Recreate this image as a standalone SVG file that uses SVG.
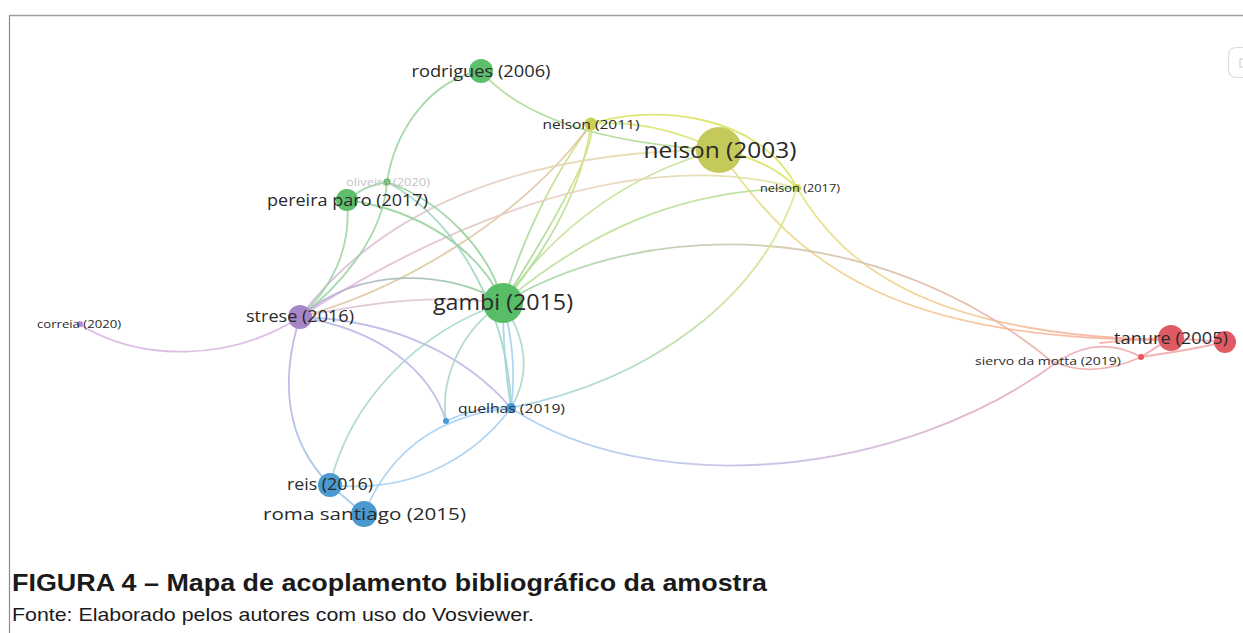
<svg xmlns="http://www.w3.org/2000/svg" width="1243" height="633" viewBox="0 0 1243 633">
<style>
.e{fill:none;stroke-linecap:round;stroke-width:1.8;stroke-opacity:0.85}
.lbl{font-family:"Open Sans","DejaVu Sans",sans-serif;fill:#2a2a2a;text-anchor:middle}
.cap{font-family:"Liberation Sans",Arial,sans-serif;fill:#1a1a1a}
</style>
<defs>
<linearGradient id="gYR1" gradientUnits="userSpaceOnUse" x1="719" y1="150" x2="1171" y2="338"><stop offset="0" stop-color="#dfe37a"/><stop offset="0.5" stop-color="#f3c48e"/><stop offset="1" stop-color="#f6a5a0"/></linearGradient>
<linearGradient id="gYR2" gradientUnits="userSpaceOnUse" x1="797" y1="188" x2="1171" y2="338"><stop offset="0" stop-color="#e0e47a"/><stop offset="0.5" stop-color="#f3c48e"/><stop offset="1" stop-color="#f6a5a0"/></linearGradient>
<linearGradient id="gGR" gradientUnits="userSpaceOnUse" x1="503" y1="303" x2="1141" y2="357"><stop offset="0" stop-color="#9ed6a4"/><stop offset="0.45" stop-color="#cfc4a8"/><stop offset="1" stop-color="#f4a4a4"/></linearGradient>
<linearGradient id="gBR" gradientUnits="userSpaceOnUse" x1="511" y1="408" x2="1171" y2="338"><stop offset="0" stop-color="#a8cdf0"/><stop offset="0.45" stop-color="#c9b6df"/><stop offset="1" stop-color="#f5a2a2"/></linearGradient>
<linearGradient id="gBY" gradientUnits="userSpaceOnUse" x1="511" y1="408" x2="797" y2="188"><stop offset="0" stop-color="#9fd0ea"/><stop offset="0.5" stop-color="#b9dca0"/><stop offset="1" stop-color="#e0e67c"/></linearGradient>
<linearGradient id="gPY" gradientUnits="userSpaceOnUse" x1="300" y1="317" x2="719" y2="150"><stop offset="0" stop-color="#d2afe0"/><stop offset="0.5" stop-color="#e6cdbf"/><stop offset="1" stop-color="#e2e39a"/></linearGradient>
<linearGradient id="gPY2" gradientUnits="userSpaceOnUse" x1="300" y1="317" x2="797" y2="188"><stop offset="0" stop-color="#d2afe0"/><stop offset="0.5" stop-color="#e6cdbf"/><stop offset="1" stop-color="#e2e39a"/></linearGradient>
<linearGradient id="gPG" gradientUnits="userSpaceOnUse" x1="300" y1="317" x2="503" y2="303"><stop offset="0" stop-color="#c4a6dc"/><stop offset="1" stop-color="#86cf92"/></linearGradient>
<linearGradient id="gPB" gradientUnits="userSpaceOnUse" x1="300" y1="317" x2="330" y2="485"><stop offset="0" stop-color="#c3a3dc"/><stop offset="1" stop-color="#9cc6ec"/></linearGradient>
<linearGradient id="gGY" gradientUnits="userSpaceOnUse" x1="503" y1="303" x2="591" y2="124"><stop offset="0" stop-color="#92d39c"/><stop offset="1" stop-color="#d8e27a"/></linearGradient>
</defs>
<g id="frame">
<line x1="9.5" y1="15" x2="9.5" y2="633" stroke="#8a8a8a" stroke-width="1.2"/>
<line x1="9" y1="15.5" x2="1243" y2="15.5" stroke="#a0a0a0" stroke-width="1.6"/>
<path d="M1243,47.5 L1237,47.5 Q1228.5,47.5 1228.5,56 L1228.5,69 Q1228.5,77.5 1237,77.5 L1243,77.5" fill="none" stroke="#dcdcdc" stroke-width="1.2"/>
<rect x="1240" y="59" width="4" height="8" fill="none" stroke="#c8c8c8" stroke-width="1"/>
</g>
<g id="connectors">
<path class="e" d="M481,71 Q540,140 719,150" stroke="#a7d88a" stroke-width="3"/>
<path class="e" d="M591,124 C650,104 760,112 797,188" stroke="#d8e25a" stroke-width="4"/>
<path class="e" d="M591,124 Q650,118 719,150" stroke="#dbe36a" stroke-width="2.2"/>
<path class="e" d="M719,150 Q770,160 797,188" stroke="#d8e25a" stroke-width="4"/>
<path class="e" d="M719,150 C800,270 900,340 1171,340" stroke="url(#gYR1)"/>
<path class="e" d="M797,188 C840,260 920,336 1171,340" stroke="url(#gYR2)"/>
<path class="e" d="M503,303 Q535,200 591,124" stroke="url(#gGY)"/>
<path class="e" d="M503,303 Q580,210 591,124" stroke="url(#gGY)"/>
<path class="e" d="M503,303 Q600,150 591,124" stroke="url(#gGY)"/>
<path class="e" d="M503,303 C560,220 640,170 719,150" stroke="#bde08c"/>
<path class="e" d="M503,303 C590,230 680,190 797,188" stroke="#b9de92"/>
<path class="e" d="M300,317 C400,290 520,220 591,124" stroke="#dcc6a0"/>
<path class="e" d="M300,317 C380,210 520,150 719,150" stroke="url(#gPY)" stroke-width="2.2"/>
<path class="e" d="M300,317 C420,240 620,140 797,188" stroke="url(#gPY2)" stroke-width="2.2"/>
<path class="e" d="M503,303 C650,215 880,220 1050,360 Q1090,380 1141,357" stroke="url(#gGR)"/>
<path class="e" d="M511,408 C650,500 900,480 1060,360 Q1100,335 1141,357" stroke="url(#gBR)"/>
<path class="e" d="M511,408 C650,380 760,300 797,188" stroke="url(#gBY)"/>
<path class="e" d="M1141,357 Q1160,345 1171,338" stroke="#f29a9a" stroke-width="2.2"/>
<path class="e" d="M1141,357 Q1190,350 1225,342" stroke="#f4a3a3"/>
<path class="e" d="M1171,338 L1225,342" stroke="#f4a3a3"/>
<path class="e" d="M1100,343 Q1150,338 1171,338" stroke="#f6b0a0"/>
<path class="e" d="M481,71 C430,80 395,130 387,182" stroke="#98d4a0"/>
<path class="e" d="M387,182 C383,240 335,290 300,317" stroke="#98d4a0"/>
<path class="e" d="M347,200 C352,250 330,290 300,317" stroke="#98d4a0"/>
<path class="e" d="M347,200 Q365,185 387,182" stroke="#98d4a0"/>
<path class="e" d="M347,200 C420,210 480,250 503,303" stroke="#8fd098"/>
<path class="e" d="M387,182 C440,200 490,250 503,303" stroke="#8fd098"/>
<path class="e" d="M387,182 C460,220 510,320 511,408" stroke="#9cd3c0"/>
<path class="e" d="M300,317 C360,265 450,270 503,303" stroke="url(#gPG)" stroke-width="3.2"/>
<path class="e" d="M300,317 C380,300 440,295 503,303" stroke="#dcbfd0"/>
<path class="e" d="M79,324 C140,362 230,362 300,317" stroke="#d7b3e0"/>
<path class="e" d="M300,317 C280,380 285,440 330,485" stroke="url(#gPB)" stroke-width="2.8"/>
<path class="e" d="M300,317 C400,320 470,360 511,408" stroke="#b7b6e6"/>
<path class="e" d="M300,317 C380,330 430,370 446,421" stroke="#b7b6e6"/>
<path class="e" d="M503,303 Q503,360 511,408" stroke="#9fd0e6"/>
<path class="e" d="M503,303 Q518,360 511,408" stroke="#9fcff0"/>
<path class="e" d="M503,303 Q540,360 511,408" stroke="#a4d6c4"/>
<path class="e" d="M503,303 C460,330 440,380 446,421" stroke="#a4d6c4"/>
<path class="e" d="M446,421 Q480,405 511,408" stroke="#9ccbf0"/>
<path class="e" d="M503,303 C420,330 350,400 330,485" stroke="#a2d4cc"/>
<path class="e" d="M330,485 C420,495 480,450 511,408" stroke="#a6cef0"/>
<path class="e" d="M364,514 C390,450 440,415 511,408" stroke="#a6cef0"/>
<path class="e" d="M330,485 L364,514" stroke="#95c3ea" stroke-width="2.4"/>
</g>
<g id="node-rodrigues"><circle cx="481" cy="71" r="12" fill="#5cbf6c"/><text class="lbl" x="481" y="76.5" font-size="15.5" textLength="139" lengthAdjust="spacingAndGlyphs">rodrigues (2006)</text></g>
<g id="node-nelson2011"><circle cx="591" cy="124" r="6.5" fill="#c8d154"/><text class="lbl" x="591" y="128.5" font-size="12.5" textLength="97" lengthAdjust="spacingAndGlyphs">nelson (2011)</text></g>
<g id="node-nelson2003"><circle cx="719" cy="150" r="23" fill="#c4c95a"/><text class="lbl" x="720" y="158" font-size="21" textLength="153" lengthAdjust="spacingAndGlyphs">nelson (2003)</text></g>
<g id="node-nelson2017"><circle cx="797" cy="188" r="4" fill="#cdd552"/><text class="lbl" x="800" y="192" font-size="11" textLength="80" lengthAdjust="spacingAndGlyphs">nelson (2017)</text></g>
<g id="node-oliveira"><circle cx="387" cy="182" r="3.5" fill="#4cb85c"/><text class="lbl" x="388" y="185.5" font-size="11" textLength="84" lengthAdjust="spacingAndGlyphs" style="fill:#c4c4c4">oliveira (2020)</text></g>
<g id="node-pereiraparo"><circle cx="347" cy="200" r="11" fill="#5cbd6b"/><text class="lbl" x="347.5" y="205.5" font-size="15.5" textLength="161" lengthAdjust="spacingAndGlyphs">pereira paro (2017)</text></g>
<g id="node-gambi"><circle cx="503" cy="303" r="20" fill="#57bd66"/><text class="lbl" x="503" y="310" font-size="21" textLength="140" lengthAdjust="spacingAndGlyphs">gambi (2015)</text></g>
<g id="node-strese"><circle cx="300" cy="317" r="12" fill="#a686c6"/><text class="lbl" x="300" y="322" font-size="15.5" textLength="108" lengthAdjust="spacingAndGlyphs">strese (2016)</text></g>
<g id="node-correia"><circle cx="80" cy="324" r="3" fill="#b28fd0"/><text class="lbl" x="79" y="327.5" font-size="11" textLength="84" lengthAdjust="spacingAndGlyphs">correia (2020)</text></g>
<g id="node-quelhas"><circle cx="511" cy="408" r="5" fill="#4a9bd6"/><text class="lbl" x="511.5" y="413" font-size="13" textLength="107" lengthAdjust="spacingAndGlyphs">quelhas (2019)</text></g>
<g id="node-small-blue"><circle cx="446" cy="421" r="3" fill="#4a9bd6"/></g>
<g id="node-reis"><circle cx="330" cy="485" r="12" fill="#4b9ad1"/><text class="lbl" x="330" y="490" font-size="15.5" textLength="86" lengthAdjust="spacingAndGlyphs">reis (2016)</text></g>
<g id="node-romasantiago"><circle cx="364" cy="514" r="13" fill="#4a98d0"/><text class="lbl" x="364.5" y="519.5" font-size="17" textLength="203" lengthAdjust="spacingAndGlyphs">roma santiago (2015)</text></g>
<g id="node-siervo"><circle cx="1141" cy="357" r="3" fill="#e8565e"/><text class="lbl" x="1048" y="364.5" font-size="11" textLength="146" lengthAdjust="spacingAndGlyphs">siervo da motta (2019)</text></g>
<g id="node-red2"><circle cx="1225" cy="342" r="11" fill="#e25b64"/></g>
<g id="node-tanure"><circle cx="1171" cy="338" r="13" fill="#e05a63"/><text class="lbl" x="1171" y="344" font-size="16.5" textLength="114" lengthAdjust="spacingAndGlyphs">tanure (2005)</text></g>
<g id="caption">
<text class="cap" x="12" y="591" font-size="24" font-weight="bold" textLength="755" lengthAdjust="spacingAndGlyphs">FIGURA 4 – Mapa de acoplamento bibliográfico da amostra</text>
<text class="cap" x="12" y="621" font-size="19" textLength="522" lengthAdjust="spacingAndGlyphs">Fonte: Elaborado pelos autores com uso do Vosviewer.</text>
</g>
</svg>
